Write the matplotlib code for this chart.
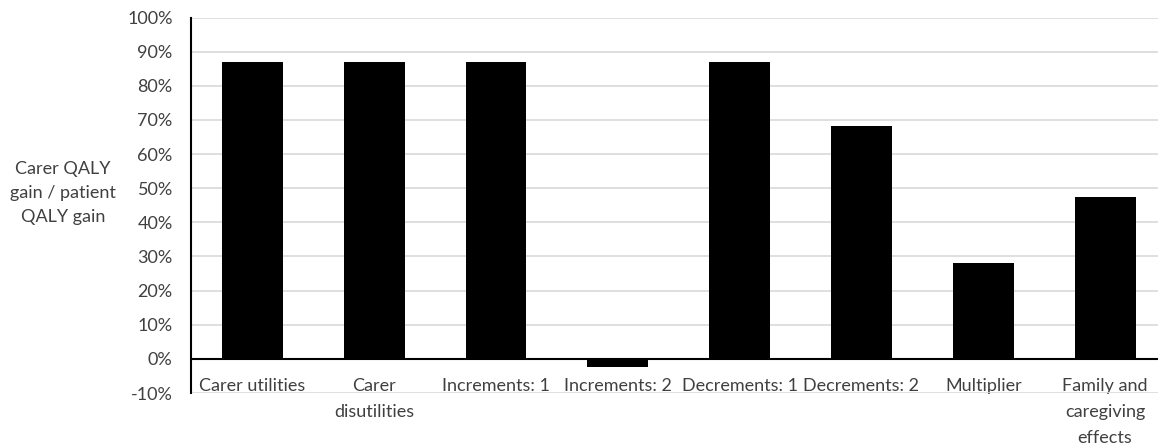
import matplotlib
matplotlib.use("Agg")
import matplotlib.pyplot as plt
from matplotlib.ticker import FuncFormatter

categories = ["Carer utilities", "Carer\ndisutilities", "Increments: 1", "Increments: 2",
              "Decrements: 1", "Decrements: 2", "Multiplier", "Family and\ncaregiving\neffects"]
values = [0.87, 0.87, 0.87, -0.024, 0.87, 0.683, 0.282, 0.475]
yticks = [-0.1, 0.0, 0.1, 0.2, 0.3, 0.4, 0.5, 0.6, 0.7, 0.8, 0.9, 1.0]

plt.rcParams['font.family'] = ['Lato', 'DejaVu Sans']
txt = '#404040'
fs = 13

fig = plt.figure(figsize=(11.58, 4.46), dpi=100)
ax = fig.add_axes([191.5/1158, 1-393/446, (1166-191.5)/1158, (393-17.5)/446])

x = list(range(len(categories)))
ax.bar(x, values, width=0.5, color='black', zorder=3)

ax.set_xlim(-0.5, len(categories)-0.5)
ax.set_ylim(-0.1, 1.0)
ax.set_yticks(yticks)
ax.yaxis.set_major_formatter(FuncFormatter(lambda v, p: f"{round(v*100):d}%"))
ax.grid(axis='y', color='#D9D9D9', linewidth=1.2, zorder=0)
ax.axhline(0, color='black', linewidth=1.5, zorder=4)

for s in ['top', 'right', 'bottom']:
    ax.spines[s].set_visible(False)
ax.spines['left'].set_color('black')
ax.spines['left'].set_linewidth(1.5)
ax.spines['left'].set_zorder(5)

ax.set_xticks(x)
ax.set_xticklabels(categories, linespacing=1.75)
ax.tick_params(axis='x', length=0, pad=-10.5, labelsize=fs, labelcolor=txt)
ax.tick_params(axis='y', length=0, pad=13.5, labelsize=fs, labelcolor=txt)

fig.text(63/1158, 1-193/446, "Carer QALY\ngain / patient\nQALY gain", ha='center', va='center',
         fontsize=fs, color=txt, linespacing=1.65)

fig.savefig("out.png", dpi=100)
